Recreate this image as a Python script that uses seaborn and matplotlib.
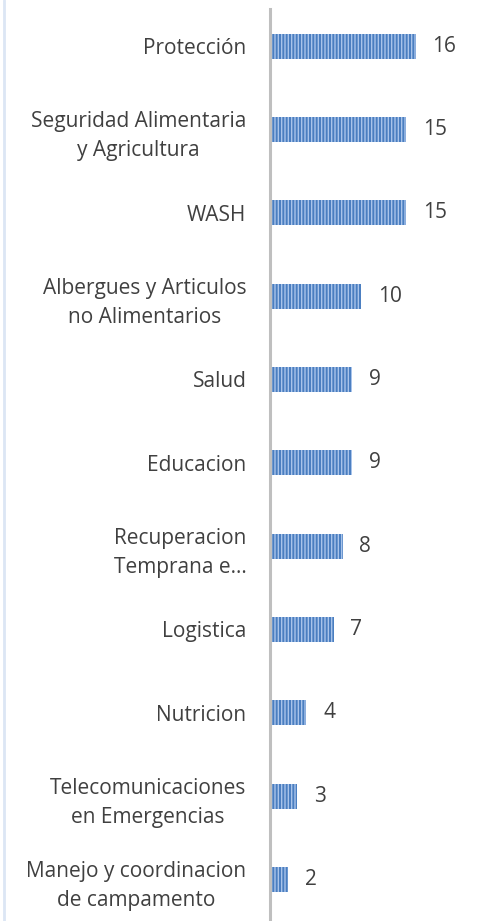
import matplotlib
matplotlib.use('Agg')
import matplotlib.pyplot as plt
import seaborn as sns
import pandas as pd

# data
sectors = [
    'Protección',
    'Seguridad Alimentaria\ny Agricultura',
    'WASH',
    'Albergues y Articulos\nno Alimentarios',
    'Salud',
    'Educacion',
    'Recuperacion\nTemprana e…',
    'Logistica',
    'Nutricion',
    'Telecomunicaciones\nen Emergencias',
    'Manejo y coordinacion\nde campamento',
]
counts = [16, 15, 15, 10, 9, 9, 8, 7, 4, 3, 2]

BAR_COLOR = '#4A7EC0'
HATCH_COLOR = '#A9C4EA'
TEXT_COLOR = '#404040'
FONT_SIZE = 15

sns.set_style('white')
plt.rcParams['font.family'] = ['Open Sans', 'DejaVu Sans']
plt.rcParams['hatch.linewidth'] = 1.0

df = pd.DataFrame({'sector': sectors, 'count': counts})

fig = plt.figure(figsize=(4.82, 9.21), dpi=100)
ax = fig.add_axes([270 / 482, 0.0, 1 - 270 / 482, 0.995])

sns.barplot(data=df, x='count', y='sector', orient='h', color=BAR_COLOR,
            width=0.3, saturation=1, ax=ax)
for patch in ax.patches:
    patch.set_hatch('|||||')
    patch.set_edgecolor(HATCH_COLOR)
    patch.set_linewidth(0)

ax.bar_label(ax.containers[0], padding=12, fontsize=FONT_SIZE, color=TEXT_COLOR)

ax.set_xlim(0, 23.3)
ax.set_ylim(len(sectors) - 0.5, -0.5)
ax.set_xlabel('')
ax.set_ylabel('')
ax.set_xticks([])
ax.tick_params(axis='y', length=0, pad=17, labelsize=FONT_SIZE, labelcolor=TEXT_COLOR)
for lab in ax.get_yticklabels():
    lab.set_multialignment('center')
    lab.set_linespacing(1.5)

for side in ['top', 'right', 'bottom']:
    ax.spines[side].set_visible(False)
ax.spines['left'].set_color('#BFBFBF')
ax.spines['left'].set_linewidth(2.2)
ax.spines['left'].set_bounds(len(sectors) - 0.5, -0.45)

# light frame edge on the left of the chart area
fig.add_artist(plt.Line2D([3.5 / 482, 3.5 / 482], [0, 1], color='#DCE6F4',
                          linewidth=2, transform=fig.transFigure))

fig.savefig('out.png', dpi=100)
